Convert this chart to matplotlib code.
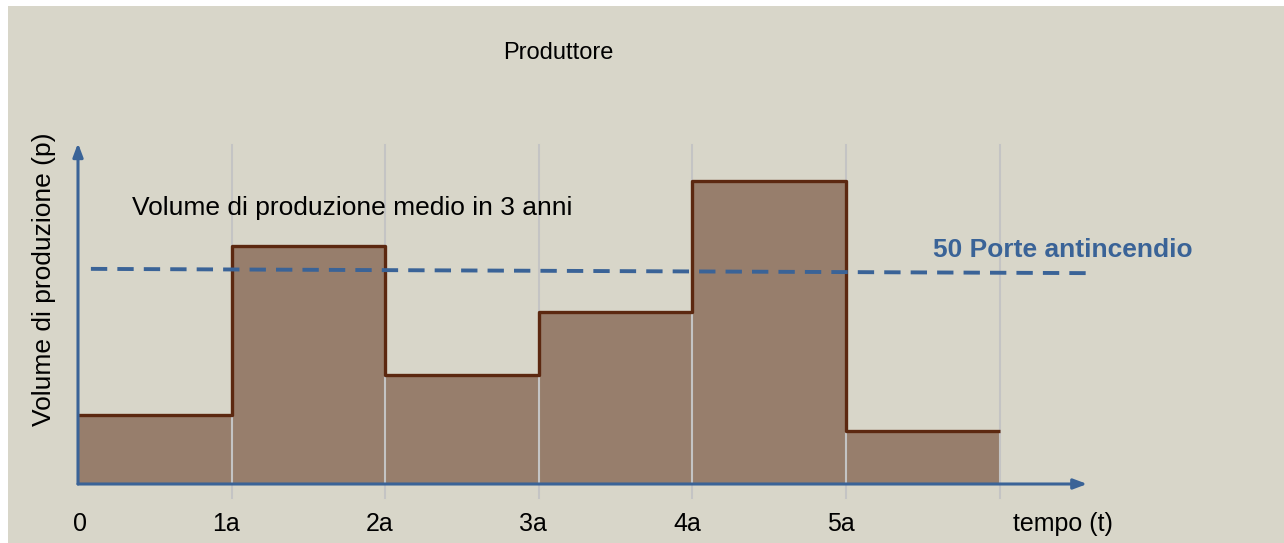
import matplotlib.pyplot as plt
from matplotlib.patches import Rectangle

# data
anni = [0, 1, 2, 3, 4, 5, 6]
volume = [16.2, 55.9, 25.6, 40.4, 71.1, 12.4]
tick_label = ["0", "1a", "2a", "3a", "4a", "5a"]
media_inizio_fine = [50.5, 49.5]

bg = "#d8d6c9"
marrone = "#977e6c"
bordo = "#5c2810"
blu = "#3a6397"
griglia = "#c4c4c4"

fig = plt.figure(figsize=(12.84, 5.43), dpi=100)
ax = fig.add_axes([0, 0, 1, 1])
ax.set_xlim(-78 / 153.6, (1284 - 78) / 153.6)
ax.set_ylim(-59 / 4.26, 484 / 4.26)
ax.axis("off")
ax.add_patch(Rectangle((8 / 1284, 0), 1, 1 - 6 / 543, transform=fig.transFigure,
                       facecolor=bg, edgecolor="none", zorder=-10, clip_on=False))

font = ["Liberation Sans", "DejaVu Sans"]

# bars (step area)
ax.fill_between(anni, volume + [volume[-1]], step="post", color=marrone, lw=0, zorder=1)

# grid lines
for t in anni[1:]:
    ax.plot([t, t], [-3.3, 79.6], color=griglia, lw=1.5, zorder=2)

# step outline
ax.step(anni, volume + [volume[-1]], where="post", color=bordo, lw=2.4, zorder=3,
        solid_capstyle="butt")

# mean line
ax.plot([0.084, 6.57], media_inizio_fine, color=blu, lw=2.8, ls=(0, (4.2, 2.6)), zorder=4)

# axes with arrows
ax.annotate("", xy=(6.57, 0), xytext=(0, 0),
            arrowprops=dict(arrowstyle="-|>,head_length=0.8,head_width=0.3", color=blu, lw=2.2,
                            shrinkA=0, shrinkB=0), zorder=5)
ax.annotate("", xy=(0, 80.0), xytext=(0, 0),
            arrowprops=dict(arrowstyle="-|>,head_length=0.8,head_width=0.3", color=blu, lw=2.2,
                            shrinkA=0, shrinkB=0), zorder=5)

# tick labels
for i, lab in enumerate(tick_label):
    xx = i - 0.035 if i > 0 else 0.013
    ax.text(xx, -11.0, lab, ha="center", va="baseline", fontsize=18, family=font)
ax.text(6.087, -11.0, "tempo (t)", ha="left", va="baseline", fontsize=18, family=font)

ax.text(-0.221, 48.1, "Volume di produzione (p)", rotation=90, ha="center", va="center",
        fontsize=19, family=font)

ax.text(3.125, 99.8, "Produttore", ha="center", va="baseline", fontsize=17, family=font)
ax.text(0.352, 63.1, "Volume di produzione medio in 3 anni", ha="left", va="baseline",
        fontsize=19, family=font)
ax.text(5.567, 53.3, "50 Porte antincendio", ha="left", va="baseline", fontsize=19,
        fontweight="bold", color=blu, family=font)

fig.savefig("out.png", dpi=100)
